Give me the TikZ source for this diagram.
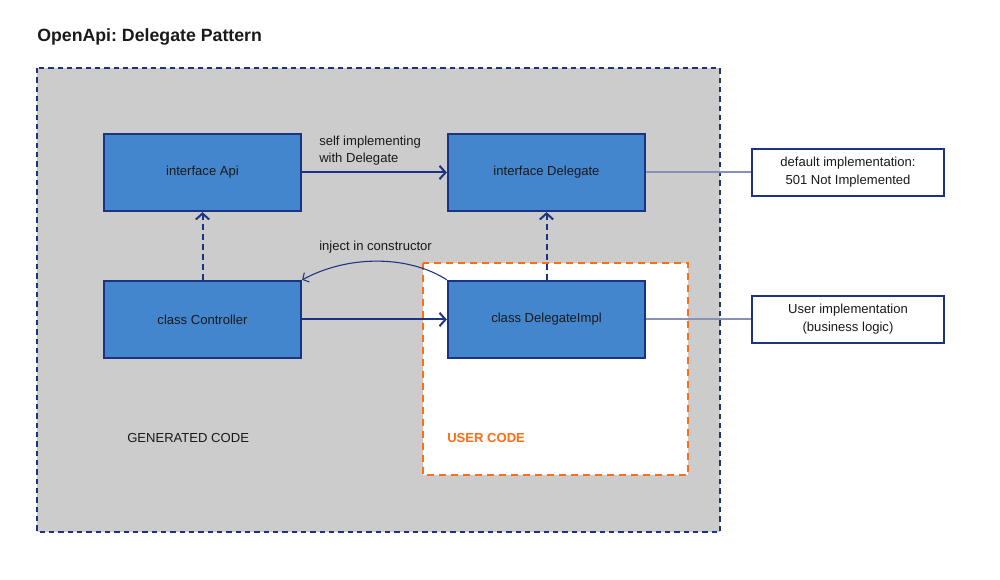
\documentclass[tikz,border=0pt]{standalone}
\usepackage{fontspec}
\setmainfont{Liberation Sans}
\usetikzlibrary{arrows.meta}
\frenchspacing
\definecolor{navy}{HTML}{1C3282}
\definecolor{boxblue}{HTML}{4486CD}
\definecolor{greybg}{HTML}{CCCCCC}
\definecolor{orng}{HTML}{FF6D14}
\definecolor{lnk}{HTML}{8791B5}
\definecolor{txt}{HTML}{1A1A1A}
\tikzset{
  cls/.style={draw=navy, line width=1.7pt, fill=boxblue, minimum width=197*0.75pt, minimum height=77*0.75pt, inner sep=0pt, font=\fontsize{9.8}{12}\selectfont, text=txt},
  note/.style={draw=navy, line width=0.9pt, fill=white, minimum width=192*0.75pt, minimum height=47*0.75pt, inner sep=0pt, font=\fontsize{9.8}{13.5}\selectfont, align=center, text=txt},
  arr/.style={draw=navy, line width=1.5pt, -{Straight Barb[length=4.5pt,width=10pt,line width=1.5pt]}},
  darr/.style={arr, dash pattern=on 4.5pt off 3pt},
  lbl/.style={font=\fontsize{9.8}{13}\selectfont, text=txt, inner sep=0pt},
}
\begin{document}
\begin{tikzpicture}[x=0.75pt,y=-0.75pt]
\useasboundingbox (0,0) rectangle (1000,580);
% title
\node[anchor=west, font=\bfseries\fontsize{13.3}{15}\selectfont, text=txt, inner sep=0pt] (title) at (37,37) {OpenApi: Delegate Pattern};
% containers
\draw[fill=greybg, draw=navy, line width=1.6pt, dash pattern=on 4pt off 3pt] (37,68) rectangle (720,532);
\draw[fill=white, draw=orng, line width=1.6pt, dash pattern=on 5pt off 4pt] (423,263) rectangle (688,475);
% boxes
\node[cls] (api) at (202.5,172.5) {interface Api};
\node[cls] (del) at (546.5,172.5) {interface Delegate};
\node[cls] (ctl) at (202.5,319.5) {class Controller};
\node[cls] (impl) at (546.5,319.5) {class DelegateImpl};
% notes
\node[note] (n1) at (848,172.5) {default implementation:\\501 Not Implemented};
\node[note] (n2) at (848,319.5) {User implementation\\(business logic)};
% labels
\node[lbl, anchor=west, font=\fontsize{9.8}{12}\selectfont] (gen) at (127,438) {GENERATED CODE};
\node[lbl, anchor=west, font=\bfseries\fontsize{9.8}{12}\selectfont, text=orng] (usr) at (447,438) {USER CODE};
\node[lbl, anchor=west, align=left] (self) at (319,150.5) {self implementing\\with Delegate};
\node[lbl, anchor=west] (inj) at (319,247) {inject in constructor};
% connectors
\draw[arr] (api.east) -- (del.west);
\draw[arr] (ctl.east) -- (impl.west);
\draw[darr] (ctl.north) -- (api.south);
\draw[darr] (impl.north) -- (del.south);
\draw[navy, line width=0.8pt, -{Straight Barb[length=3.5pt,width=8pt,line width=0.8pt]}] (impl.north west) .. controls (410,256) and (350,254) .. (ctl.north east);
\draw[lnk, line width=1.5pt] (del.east) -- (n1.west);
\draw[lnk, line width=1.5pt] (impl.east) -- (n2.west);
\end{tikzpicture}
\end{document}
